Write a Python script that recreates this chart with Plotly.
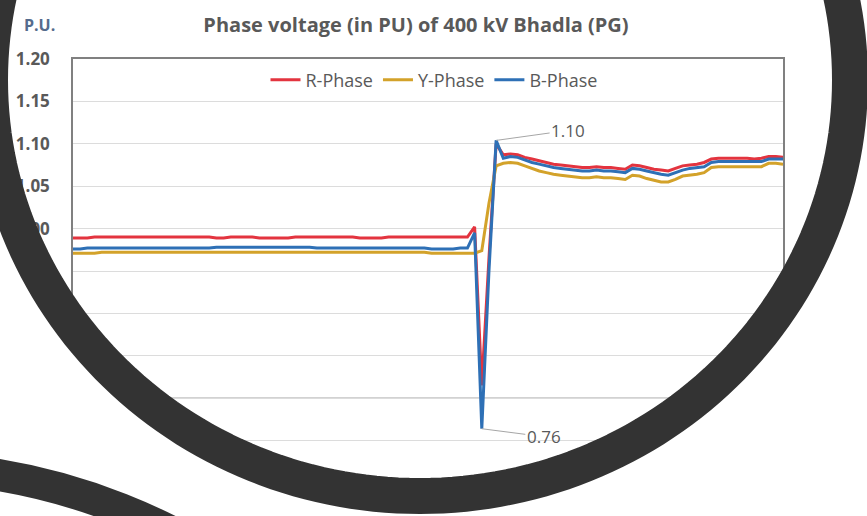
import numpy as np
import plotly.graph_objects as go

# ---------------- data ----------------
series_names = ["R-Phase", "Y-Phase", "B-Phase"]
sample = list(range(100))

r_phase = [0.989, 0.989, 0.989, 0.990, 0.990, 0.990, 0.990, 0.990, 0.990, 0.990,
           0.990, 0.990, 0.990, 0.990, 0.990, 0.990, 0.990, 0.990, 0.990, 0.990,
           0.989, 0.989, 0.990, 0.990, 0.990, 0.990, 0.989, 0.989, 0.989, 0.989,
           0.989, 0.990, 0.990, 0.990, 0.990, 0.990, 0.990, 0.990, 0.990, 0.990,
           0.989, 0.989, 0.989, 0.989, 0.990, 0.990, 0.990, 0.990, 0.990, 0.990,
           0.990, 0.990, 0.990, 0.990, 0.990, 0.990, 1.002, 0.815, 0.965, 1.100,
           1.087, 1.088, 1.087, 1.084, 1.082, 1.080, 1.078, 1.076, 1.075, 1.074,
           1.073, 1.072, 1.072, 1.073, 1.072, 1.072, 1.071, 1.070, 1.075, 1.074,
           1.072, 1.070, 1.069, 1.068, 1.071, 1.074, 1.075, 1.076, 1.078, 1.082,
           1.083, 1.083, 1.083, 1.083, 1.083, 1.082, 1.083, 1.085, 1.085, 1.084]

y_phase = [0.971, 0.971, 0.971, 0.971, 0.972, 0.972, 0.972, 0.972, 0.972, 0.972,
           0.972, 0.972, 0.972, 0.972, 0.972, 0.972, 0.972, 0.972, 0.972, 0.972,
           0.972, 0.972, 0.972, 0.972, 0.972, 0.972, 0.972, 0.972, 0.972, 0.972,
           0.972, 0.972, 0.972, 0.972, 0.972, 0.972, 0.972, 0.972, 0.972, 0.972,
           0.972, 0.972, 0.972, 0.972, 0.972, 0.972, 0.972, 0.972, 0.972, 0.972,
           0.971, 0.971, 0.971, 0.971, 0.971, 0.971, 0.971, 0.974, 1.030, 1.074,
           1.077, 1.078, 1.077, 1.074, 1.071, 1.068, 1.066, 1.064, 1.063, 1.062,
           1.061, 1.060, 1.060, 1.061, 1.060, 1.060, 1.059, 1.058, 1.063, 1.062,
           1.059, 1.057, 1.055, 1.055, 1.058, 1.062, 1.063, 1.064, 1.066, 1.072,
           1.073, 1.073, 1.073, 1.073, 1.073, 1.073, 1.073, 1.077, 1.077, 1.076]

b_phase = [0.976, 0.976, 0.977, 0.977, 0.977, 0.977, 0.977, 0.977, 0.977, 0.977,
           0.977, 0.977, 0.977, 0.977, 0.977, 0.977, 0.977, 0.977, 0.977, 0.977,
           0.978, 0.978, 0.978, 0.978, 0.978, 0.978, 0.978, 0.978, 0.978, 0.978,
           0.978, 0.978, 0.978, 0.978, 0.977, 0.977, 0.977, 0.977, 0.977, 0.977,
           0.977, 0.977, 0.977, 0.977, 0.977, 0.977, 0.977, 0.977, 0.977, 0.977,
           0.976, 0.976, 0.976, 0.976, 0.977, 0.977, 0.995, 0.764, 0.950, 1.104,
           1.083, 1.085, 1.084, 1.081, 1.078, 1.076, 1.074, 1.072, 1.071, 1.070,
           1.069, 1.068, 1.068, 1.069, 1.068, 1.068, 1.067, 1.066, 1.071, 1.070,
           1.068, 1.066, 1.064, 1.063, 1.066, 1.069, 1.071, 1.072, 1.073, 1.078,
           1.079, 1.079, 1.079, 1.079, 1.079, 1.079, 1.079, 1.082, 1.082, 1.082]

y_ticks = [0.70, 0.75, 0.80, 0.85, 0.90, 0.95, 1.00, 1.05, 1.10, 1.15, 1.20]

# ---------------- styling ----------------
W, H = 867, 516
ML, MR, MT, MB = 73, 84, 59, 33
PW, PH = W - ML - MR, H - MT - MB
colors = ["#E3343F", "#D3A22A", "#2E70B6"]
FONT = "Open Sans"
GRAY = "#595959"


def px2paper(px, py):
    return (px - ML) / PW, (H - MB - py) / PH


fig = go.Figure()
for name, vals, col in zip(series_names, [r_phase, y_phase, b_phase], colors):
    fig.add_trace(go.Scatter(x=sample, y=vals, mode="lines", name=name,
                             line=dict(color=col, width=3)))

# data labels for the extremes of the B-phase
i_max = int(np.argmax(b_phase))
i_min = int(np.argmin(b_phase))
annotations = [
    dict(x=sample[i_max], y=b_phase[i_max], text=f"{b_phase[i_max]:.2f}",
         showarrow=True, arrowhead=0, arrowwidth=1, arrowcolor="#A6A6A6",
         ax=72, ay=-10, font=dict(family=FONT, size=17, color=GRAY)),
    dict(x=sample[i_min], y=b_phase[i_min], text=f"{b_phase[i_min]:.2f}",
         showarrow=True, arrowhead=0, arrowwidth=1, arrowcolor="#A6A6A6",
         ax=62, ay=8, font=dict(family=FONT, size=17, color=GRAY)),
]
pux, puy = px2paper(39, 25)
annotations.append(dict(x=pux, y=puy, xref="paper", yref="paper", text="<b>P.U.</b>",
                        xanchor="center", yanchor="middle",
                        showarrow=False, font=dict(family=FONT, size=16, color="#556B8D")))

# ---------------- ring overlay (decoration) ----------------
shapes = []
# darker horizontal rule at 0.80
shapes.append(dict(type="line", xref="paper", yref="y", x0=0, x1=1, y0=0.80, y1=0.80,
                   line=dict(color="#A6A6A6", width=1.5), layer="below"))

cx, cy, ra, rb = 420, 80, 430, 416
t = np.linspace(0, 2 * np.pi, 241)
ex = cx + ra * np.cos(t)
ey = cy + rb * np.sin(t)
pts = [px2paper(a, b) for a, b in zip(ex, ey)]
ell = "M " + " L ".join(f"{p[0]:.5f},{p[1]:.5f}" for p in pts) + " Z"
r0 = [px2paper(-60, -60), px2paper(W + 60, -60), px2paper(W + 60, H + 60), px2paper(-60, H + 60)]
rect = "M " + " L ".join(f"{p[0]:.5f},{p[1]:.5f}" for p in r0) + " Z"
shapes.append(dict(type="path", xref="paper", yref="paper", path=rect + " " + ell,
                   fillcolor="white", fillrule="evenodd", line=dict(width=0), layer="above"))
shapes.append(dict(type="path", xref="paper", yref="paper", path=ell,
                   line=dict(color="#333333", width=36), layer="above"))

# second ring, bottom-left corner
c2x, c2y, r2 = -100, 1067, 600
x0p, y0p = px2paper(c2x - r2, c2y + r2)
x1p, y1p = px2paper(c2x + r2, c2y - r2)
shapes.append(dict(type="circle", xref="paper", yref="paper", x0=x0p, y0=y0p, x1=x1p, y1=y1p,
                   line=dict(color="#333333", width=32), layer="above"))

lx, ly = px2paper(434, 80)
fig.update_layout(
    width=W, height=H,
    margin=dict(l=ML, r=MR, t=MT, b=MB),
    paper_bgcolor="white", plot_bgcolor="white",
    title=dict(text="<b>Phase voltage (in PU) of 400 kV Bhadla (PG)</b>",
               x=416 / W, xanchor="center", y=1 - 25 / H, yanchor="middle",
               font=dict(family=FONT, size=20, color=GRAY)),
    legend=dict(orientation="h", x=lx, y=ly, xanchor="center", yanchor="middle",
                font=dict(family=FONT, size=18, color=GRAY), bgcolor="white"),
    xaxis=dict(range=[sample[0], sample[-1]], showgrid=False, showticklabels=False,
               ticks="", showline=True, linecolor="#808080", linewidth=1.5, mirror=True,
               zeroline=False),
    yaxis=dict(range=[0.70, 1.20], tickvals=y_ticks,
               ticktext=[f"{v:.2f}" for v in y_ticks],
               showgrid=True, gridcolor="#DCDCDC", gridwidth=1,
               showline=True, linecolor="#808080", linewidth=1.5, mirror=True,
               ticks="", ticklabelstandoff=18, zeroline=False,
               tickfont=dict(family=FONT, size=17, color=GRAY, weight="bold")),
    annotations=annotations,
    shapes=shapes,
    showlegend=True,
)

fig.write_html("out.html", config={"displayModeBar": False},
               post_script="document.body.style.margin='0px';")
